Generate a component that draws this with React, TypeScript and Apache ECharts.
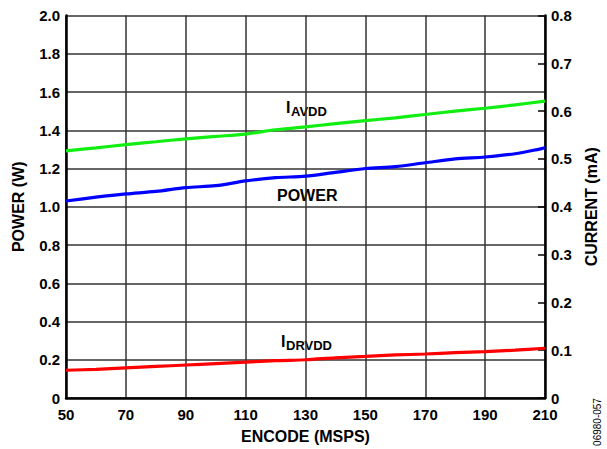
import React, { useEffect, useRef } from "react";
import * as echarts from "echarts";

const encodeRates = ["50", "60", "70", "80", "90", "100", "110", "120", "130", "140", "150", "160", "170", "180", "190", "200", "210"];
const powerW = [1.03, 1.05, 1.067, 1.08, 1.1, 1.11, 1.135, 1.152, 1.16, 1.18, 1.2, 1.21, 1.23, 1.25, 1.26, 1.277, 1.308];
const iAvddMA = [0.517, 0.523, 0.53, 0.536, 0.542, 0.547, 0.552, 0.561, 0.567, 0.574, 0.58, 0.586, 0.593, 0.6, 0.606, 0.613, 0.621];
const iDrvddMA = [0.058, 0.06, 0.063, 0.066, 0.069, 0.072, 0.075, 0.078, 0.08, 0.084, 0.087, 0.09, 0.092, 0.095, 0.097, 0.1, 0.104];

const FONT = "Liberation Sans, Arial, Helvetica, sans-serif";

export default function App() {
  const ref = useRef<HTMLDivElement>(null);
  useEffect(() => {
    if (!ref.current) return;
    const chart = echarts.init(ref.current, undefined, { renderer: "svg" });
    const lbl = { color: "#000", fontFamily: FONT, fontWeight: "bold" as const, fontSize: 15 };
    const nameStyle = { color: "#000", fontFamily: FONT, fontWeight: "bold" as const, fontSize: 16 };
    const fmt = (v: number) => (v === 0 ? "0" : v.toFixed(1));
    chart.setOption({
      animation: false,
      backgroundColor: "#fff",
      grid: { left: 66, right: 61, top: 15.5, bottom: 50, containLabel: false },
      xAxis: {
        type: "category",
        data: encodeRates,
        boundaryGap: false,
        name: "ENCODE (MSPS)",
        nameLocation: "middle",
        nameGap: 30,
        nameTextStyle: nameStyle,
        axisLine: { lineStyle: { color: "#000", width: 2.5 } },
        axisTick: { show: false },
        axisLabel: { ...lbl, interval: 1, margin: 9 },
        splitLine: { show: true, interval: 1, lineStyle: { color: "#333", width: 1.5 } },
      },
      yAxis: [
        {
          type: "value",
          min: 0,
          max: 2,
          interval: 0.2,
          name: "POWER (W)",
          nameLocation: "middle",
          nameGap: 40,
          nameTextStyle: nameStyle,
          axisLine: { show: true, lineStyle: { color: "#000", width: 2.5 } },
          axisTick: { show: false },
          axisLabel: { ...lbl, margin: 6, formatter: fmt },
          splitLine: { show: true, lineStyle: { color: "#333", width: 1.5 } },
        },
        {
          type: "value",
          min: 0,
          max: 0.8,
          interval: 0.1,
          position: "right",
          name: "CURRENT (mA)",
          nameLocation: "middle",
          nameGap: 38,
          nameTextStyle: nameStyle,
          axisLine: { show: true, lineStyle: { color: "#000", width: 2.5 } },
          axisTick: { show: true, inside: true, length: 7, lineStyle: { color: "#000", width: 1.5 } },
          axisLabel: { ...lbl, margin: 6, formatter: fmt },
          splitLine: { show: false },
        },
      ],
      series: [
        {
          name: "IAVDD",
          type: "line",
          yAxisIndex: 1,
          data: iAvddMA,
          showSymbol: false,
          smooth: 0.3,
          lineStyle: { color: "#11ee11", width: 3.2 },
        },
        {
          name: "POWER",
          type: "line",
          yAxisIndex: 0,
          data: powerW,
          showSymbol: false,
          smooth: 0.3,
          lineStyle: { color: "#0000ff", width: 3.2 },
        },
        {
          name: "IDRVDD",
          type: "line",
          yAxisIndex: 1,
          data: iDrvddMA,
          showSymbol: false,
          smooth: 0.3,
          lineStyle: { color: "#ff0000", width: 3.2 },
        },
      ],
      graphic: [
        { type: "text", left: 286, top: 99, style: { text: "I", font: `bold 16px ${FONT}`, fill: "#000" } },
        { type: "text", left: 291, top: 105, style: { text: "AVDD", font: `bold 13px ${FONT}`, fill: "#000" } },
        { type: "text", left: 277, top: 187, style: { text: "POWER", font: `bold 16px ${FONT}`, fill: "#000" } },
        { type: "text", left: 281, top: 333, style: { text: "I", font: `bold 16px ${FONT}`, fill: "#000" } },
        { type: "text", left: 286, top: 339, style: { text: "DRVDD", font: `bold 13px ${FONT}`, fill: "#000" } },
        {
          type: "text",
          x: 597,
          y: 422,
          rotation: Math.PI / 2,
          style: { text: "06980-057", font: `10px ${FONT}`, fill: "#000", align: "center", verticalAlign: "middle" },
        },
      ],
    });
    return () => chart.dispose();
  }, []);
  return <div ref={ref} style={{ position: "fixed", left: 0, top: 0, width: 607, height: 449 }} />;
}
